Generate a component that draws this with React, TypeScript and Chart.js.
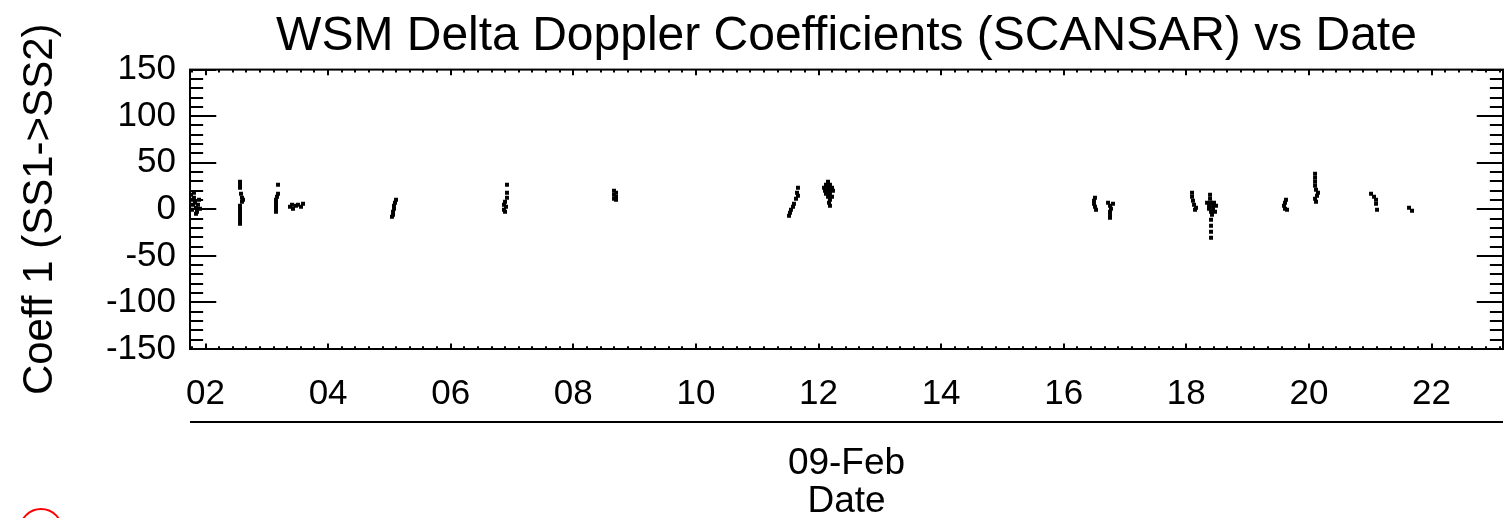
import { useEffect, useRef } from "react";
import { Chart, registerables } from "chart.js";

Chart.register(...registerables);

const chartTitle = "WSM Delta Doppler Coefficients (SCANSAR) vs Date";
const yAxisTitle = "Coeff 1 (SS1->SS2)";
const xAxisMonthLabel = "09-Feb";
const xAxisTitle = "Date";

// x values are days of February, y values are Coeff 1
const sampleDays = [
  1.763, 1.78, 1.796, 1.78, 1.812, 1.829, 1.845, 1.861, 1.878, 1.894, 1.812, 1.845, 1.91,
  2.563, 2.563, 2.563, 2.579, 2.595, 2.612, 2.595, 2.563, 2.563, 2.563, 2.563, 2.563, 2.563, 2.563,
  3.183, 3.183, 3.166, 3.15, 3.15, 3.15, 3.15, 3.15,
  3.378, 3.411, 3.427, 3.476, 3.509, 3.558, 3.591,
  5.108, 5.091, 5.075, 5.075, 5.059, 5.059, 5.042,
  6.918, 6.918, 6.918, 6.886, 6.869, 6.902, 6.869, 6.886,
  8.664, 8.697, 8.664, 8.697, 8.664, 8.697,
  11.665, 11.649, 11.665, 11.633, 11.6, 11.584, 11.551, 11.535, 11.519,
  12.155, 12.122, 12.187, 12.09, 12.155, 12.22, 12.106, 12.171, 12.236, 12.122, 12.187, 12.155, 12.22, 12.187, 12.171, 12.187,
  16.51, 16.494, 16.494, 16.51, 16.527,
  16.723, 16.804, 16.755, 16.771, 16.755, 16.755, 16.755,
  18.093, 18.093, 18.109, 18.126, 18.158, 18.142,
  18.387, 18.387, 18.338, 18.403, 18.452, 18.37, 18.436, 18.485, 18.37, 18.436, 18.468, 18.403, 18.419, 18.403, 18.403, 18.403, 18.403,
  19.626, 19.61, 19.594, 19.61, 19.643,
  20.1, 20.1, 20.1, 20.1, 20.116, 20.148, 20.132, 20.1, 20.116,
  21.013, 21.062, 21.095, 21.095, 21.111,
  21.633, 21.682,
];

const coeff1Values = [
  15.6, 10.2, 4.8, -0.5, 12.4, 7.0, 1.6, -2.7, 4.8, 10.2, 17.7, -4.8, 0.5,
  29.6, 26.3, 23.1, 16.7, 12.4, 10.2, 8.1, 3.8, 0.5, -2.7, -5.9, -9.1, -12.4, -15.6,
  26.3, 16.7, 13.4, 10.2, 7.0, 3.8, 0.5, -2.7,
  2.7, 4.8, 0.5, 3.8, 4.8, 2.7, 5.9,
  10.2, 7.0, 3.8, 0.5, -2.7, -5.9, -8.1,
  26.3, 17.7, 12.4, 8.1, 4.8, 2.7, -0.5, -2.7,
  19.9, 17.7, 15.6, 13.4, 11.3, 10.2,
  23.1, 17.7, 14.5, 11.3, 5.9, 2.7, -0.5, -3.8, -7.0,
  29.6, 26.3, 26.3, 23.1, 23.1, 23.1, 19.9, 19.9, 19.9, 16.7, 16.7, 13.4, 13.4, 10.2, 7.0, 3.8,
  12.4, 9.1, 5.9, 2.7, -0.5,
  7.0, 5.9, 3.8, 0.5, -2.7, -5.9, -9.1,
  17.7, 13.4, 9.1, 4.8, 1.6, -0.5,
  15.6, 11.3, 7.0, 7.0, 7.0, 3.8, 3.8, 3.8, 0.5, 0.5, -2.7, -2.7, -5.9, -11.3, -17.7, -24.2, -30.6,
  10.2, 7.0, 3.8, 0.5, -0.5,
  38.2, 33.9, 29.6, 25.3, 21.0, 17.7, 14.5, 11.3, 8.1,
  16.7, 13.4, 10.2, 5.9, -0.5,
  1.6, -1.6,
];

const xTickDays = [2, 4, 6, 8, 10, 12, 14, 16, 18, 20, 22];
const xTickLabels = ["02", "04", "06", "08", "10", "12", "14", "16", "18", "20", "22"];
const yTickValues = [-150, -100, -50, 0, 50, 100, 150];
const yTickLabels = ["-150", "-100", "-50", "0", "50", "100", "150"];

const X_MIN = 1.747;
const X_MAX = 23.166;
const Y_MIN = -150;
const Y_MAX = 150;
const FONT = "'Liberation Sans', Arial, sans-serif";

const idlFrame = {
  id: "idlFrame",
  afterDraw(chart: any) {
    const { ctx, chartArea: a, scales } = chart;
    const x = scales.x;
    const y = scales.y;
    ctx.save();
    ctx.strokeStyle = "#000";
    ctx.lineWidth = 2;
    ctx.strokeRect(a.left, a.top, a.right - a.left, a.bottom - a.top);

    const w = a.right - a.left;
    const h = a.bottom - a.top;
    const yMajorLen = w * 0.02;
    const xMajorLen = h * 0.02;

    ctx.beginPath();
    // y ticks: minor every 10, major every 50, on left and right
    for (let i = 0; i <= 30; i++) {
      const v = Y_MIN + i * 10;
      const py = Math.round(y.getPixelForValue(v));
      const len = i % 5 === 0 ? yMajorLen : yMajorLen / 2;
      ctx.moveTo(a.left, py);
      ctx.lineTo(a.left + len, py);
      ctx.moveTo(a.right, py);
      ctx.lineTo(a.right - len, py);
    }
    // x ticks: major every 2 days, 9 minor intervals between, on bottom and top
    for (let i = -3; i <= 100; i++) {
      const d = 2 + (i * 2) / 9;
      if (d < X_MIN || d > X_MAX) continue;
      const px = Math.round(x.getPixelForValue(d));
      const len = i % 9 === 0 ? xMajorLen : xMajorLen / 2;
      ctx.moveTo(px, a.bottom);
      ctx.lineTo(px, a.bottom - len);
      ctx.moveTo(px, a.top);
      ctx.lineTo(px, a.top + len);
    }
    ctx.stroke();

    // second-level date axis line
    ctx.beginPath();
    ctx.lineWidth = 2;
    ctx.moveTo(a.left, a.bottom + 73);
    ctx.lineTo(a.right, a.bottom + 73);
    ctx.stroke();

    // red mark at bottom-left corner
    ctx.beginPath();
    ctx.strokeStyle = "#ff0000";
    ctx.lineWidth = 2;
    ctx.arc(41, 530, 21, 0, Math.PI * 2);
    ctx.stroke();
    ctx.restore();
  },
};

export default function App() {
  const ref = useRef<HTMLCanvasElement>(null);

  useEffect(() => {
    document.body.style.margin = "0";
    const points = sampleDays.map((d, i) => ({ x: d, y: coeff1Values[i] }));
    const chart = new Chart(ref.current as HTMLCanvasElement, {
      type: "scatter",
      data: {
        datasets: [
          {
            data: points,
            pointStyle: "rect",
            pointRadius: 2.8,
            pointHoverRadius: 2.8,
            pointBackgroundColor: "#000",
            pointBorderWidth: 0,
            showLine: false,
          },
        ],
      },
      options: {
        responsive: false,
        animation: false,
        events: [],
        layout: { padding: { left: 0, right: 3, top: 0, bottom: 0 } },
        plugins: {
          legend: { display: false },
          tooltip: { enabled: false },
          title: {
            display: true,
            text: chartTitle,
            fullSize: false,
            color: "#000",
            font: { family: FONT, size: 48, weight: "normal", lineHeight: 1.2 },
            padding: { top: 8, bottom: 4 },
          },
        },
        scales: {
          x: {
            type: "linear",
            min: X_MIN,
            max: X_MAX,
            afterFit: (s: any) => {
              s.height = 169;
            },
            afterBuildTicks: (s: any) => {
              s.ticks = xTickDays.map((v) => ({ value: v }));
            },
            grid: { display: false, drawTicks: false },
            border: { display: false },
            ticks: {
              autoSkip: false,
              maxRotation: 0,
              minRotation: 0,
              padding: 24,
              color: "#000",
              font: { family: FONT, size: 35 },
              callback: (_v: any, i: number) => xTickLabels[i],
            },
            title: {
              display: true,
              text: [xAxisMonthLabel, xAxisTitle],
              color: "#000",
              font: { family: FONT, size: 37, lineHeight: 38 / 37 },
              padding: { top: 0, bottom: -3 },
            },
          },
          y: {
            type: "linear",
            min: Y_MIN,
            max: Y_MAX,
            afterFit: (s: any) => {
              s.width = 190;
            },
            afterBuildTicks: (s: any) => {
              s.ticks = yTickValues.map((v) => ({ value: v }));
            },
            grid: { display: false, drawTicks: false },
            border: { display: false },
            ticks: {
              padding: 14,
              color: "#000",
              font: { family: FONT, size: 35 },
              callback: (_v: any, i: number) => yTickLabels[i],
            },
            title: {
              display: true,
              text: yAxisTitle,
              color: "#000",
              font: { family: FONT, size: 42 },
              padding: { top: 15, bottom: 0 },
            },
          },
        },
      },
      plugins: [idlFrame],
    });
    return () => chart.destroy();
  }, []);

  return (
    <div style={{ width: 1506, height: 518, background: "#fff" }}>
      <canvas ref={ref} width={1506} height={518} style={{ display: "block" }} />
    </div>
  );
}
